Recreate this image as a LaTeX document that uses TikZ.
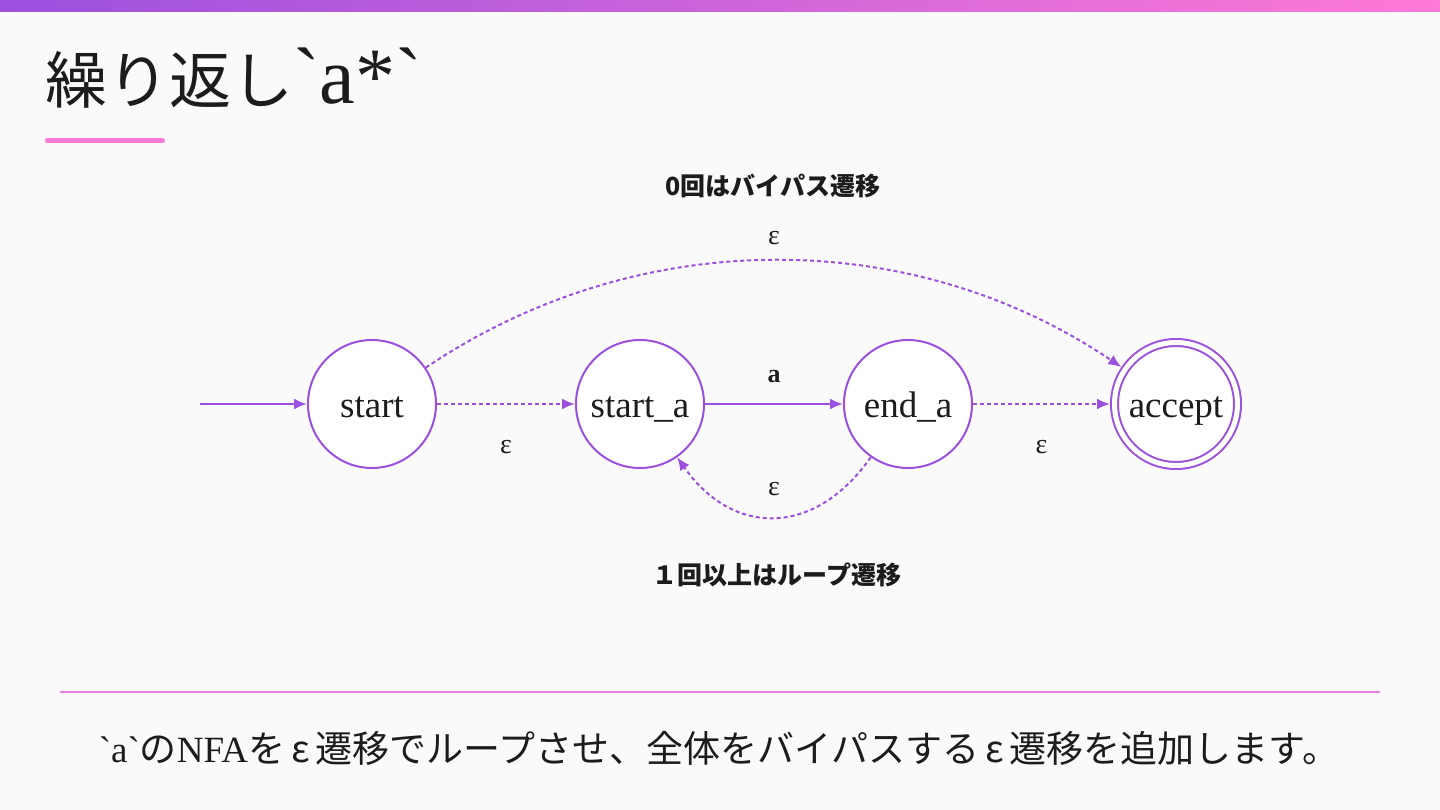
\documentclass[tikz,border=0pt]{standalone}
\usepackage{fontspec}
\setmainfont{Liberation Serif}
\newfontfamily\jp{Noto Sans CJK JP}
\newfontfamily\lat{Liberation Serif}[Ligatures=TeXOff]
\usetikzlibrary{arrows.meta}
\definecolor{nfa}{RGB}{155,80,222}
\definecolor{pinkish}{RGB}{255,121,214}
\definecolor{rulepink}{RGB}{236,128,222}
\definecolor{bg}{RGB}{250,250,250}
\definecolor{ink}{RGB}{28,28,28}
\newcommand{\ArrTip}{Latex[length=13pt,width=11pt]}
\newcommand{\fs}[1]{\fontsize{#1}{#1}\selectfont}
\tikzset{state/.style={draw=nfa,fill=white,circle,line width=2pt,minimum size=128pt,inner sep=0pt,text=ink,font=\fs{37},text height=26pt,text depth=0pt}}
\tikzset{final/.style={state,double=white,double distance=5pt,minimum size=123pt,outer sep=4.5pt}}
\tikzset{eps/.style={draw=nfa,line width=2pt,dash pattern=on 4pt off 3pt,-{\ArrTip}}}
\tikzset{sym/.style={draw=nfa,line width=2pt,-{\ArrTip}}}
\tikzset{lbl/.style={text=ink,font=\fs{28}}}

\begin{document}
\begin{tikzpicture}[x=1pt,y=-1pt]
\fill[bg](0,0)rectangle(1440,810);\useasboundingbox(0,0)rectangle(1440,810);
\shade[left color=nfa,right color=pinkish](0,0)rectangle(1440,12);
\node(ttl)[anchor=base west,inner sep=0pt,text=ink]at(45,104){{\jp\fs{62}繰り返し}{\lat\fs{80}`a*`}};
\draw[pinkish,line width=5pt,line cap=round](47.5,140.5)--(162.5,140.5);
% states
\node(s)[state]at(372,404){start};\node(sa)[state]at(640,404){start\_a};
\node(ea)[state]at(908,404){end\_a};\node(acc)[final]at(1176,404){accept};
\coordinate(in)at(200,404);
\draw[sym](in)--(s);
\draw[eps](s)--node[lbl,yshift=-43pt]{ε}(sa);
\draw[sym](sa)--node[lbl,yshift=27pt,font=\fs{26}\bfseries]{a}(ea);
\draw[eps](ea)--node[lbl,yshift=-43pt]{ε}(acc);
\draw[eps](s)..controls(637,225)and(911,225)..(acc)node[lbl,midway,yshift=23pt]{ε};
\draw[eps](ea)..controls(815,537)and(733,537)..(sa)node[lbl,midway,yshift=28pt]{ε};
\begin{scope}[font=\jp\bfseries\fs{25},text=ink]
\node(zero)at(773,186){0回はバイパス遷移};\node(more)at(777,575){１回以上はループ遷移};
\end{scope}
\draw[rulepink,line width=1.5pt](60,692)--(1380,692);
\node(cap)[text=ink]at(719,748){\fs{37}{\lat`a`}\jp の{\lat NFA}を\,ε\,遷移でループさせ、全体をバイパスする\,ε\,遷移を追加します。};
\end{tikzpicture}
\end{document}
